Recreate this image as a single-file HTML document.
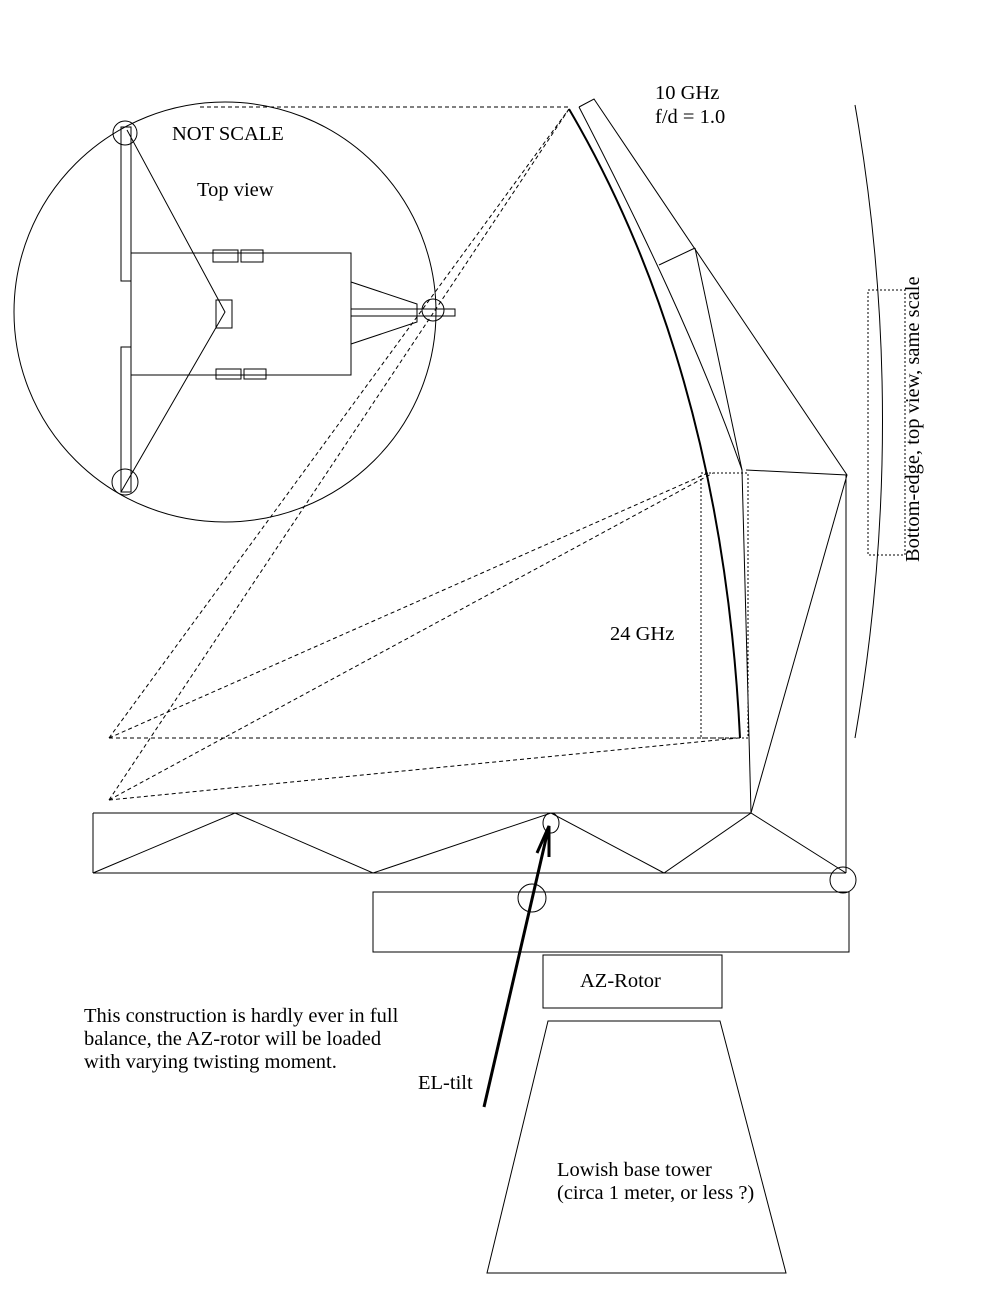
<!DOCTYPE html>
<html><head><style>
html,body{margin:0;padding:0;background:#fff;}
svg{display:block;}
text{font-family:"Liberation Serif",serif;font-size:20.5px;fill:#000;}
</style></head><body>
<svg width="990" height="1289" viewBox="0 0 990 1289" xmlns="http://www.w3.org/2000/svg">
<g fill="none" stroke="#000" stroke-width="1">
<ellipse cx="225" cy="312" rx="211" ry="210"/>
<rect x="121" y="127" width="10" height="154"/>
<rect x="121" y="347" width="10" height="145"/>
<rect x="131" y="253" width="220" height="122"/>
<rect x="213" y="250" width="25" height="12"/>
<rect x="241" y="250" width="22" height="12"/>
<rect x="216" y="369" width="25" height="10"/>
<rect x="244" y="369" width="22" height="10"/>
<rect x="216" y="300" width="16" height="28"/>
<polyline points="127,130 225,312 121,492"/>
<polyline points="351,282 417,304 417,322 351,344"/>
<rect x="351" y="309" width="104" height="7"/>
<circle cx="433" cy="310" r="11"/>
<circle cx="125" cy="133" r="12"/>
<circle cx="125" cy="482" r="13"/>
<g stroke-dasharray="4,3">
<line x1="200" y1="107" x2="569" y2="107"/>
<line x1="109" y1="738" x2="740" y2="738"/>
<line x1="109" y1="738" x2="569" y2="109"/>
<line x1="109" y1="800" x2="569" y2="109"/>
<line x1="109" y1="738" x2="708" y2="473"/>
<line x1="109" y1="800" x2="713" y2="473"/>
<line x1="109" y1="800" x2="738" y2="738"/>
</g>
<g stroke-dasharray="2,2">
<rect x="701" y="473" width="47" height="265"/>
<rect x="868" y="290" width="37" height="265"/>
</g>
<path d="M569,109 C640,230 725,430 740,738" stroke-width="2"/>
<path d="M579,107 C640,225 700,350 742,470"/>
<polyline points="579,107 594,99 847,475 751,813"/>
<line x1="659" y1="265" x2="695" y2="248"/>
<line x1="695" y1="248" x2="742" y2="470"/>
<polyline points="742,470 751,813"/>
<line x1="746" y1="470" x2="847" y2="475"/>
<line x1="846" y1="475" x2="846" y2="873"/>
<path d="M855,105 Q910,420 855,738"/>
<line x1="93" y1="813" x2="751" y2="813"/>
<line x1="93" y1="873" x2="846" y2="873"/>
<line x1="93" y1="813" x2="93" y2="873"/>
<polyline points="93,873 235,813 373,873 551,813 664,873 751,813 846,873"/>
<ellipse cx="551" cy="823" rx="8" ry="10"/>
<circle cx="843" cy="880" r="13"/>
<rect x="373" y="892" width="476" height="60"/>
<ellipse cx="532" cy="898" rx="14" ry="14"/>
<rect x="543" y="955" width="179" height="53"/>
<polygon points="548,1021 720,1021 786,1273 487,1273"/>
<line x1="484" y1="1107" x2="548" y2="830" stroke-width="3"/>
<polyline points="537,853 549,826 549,857" stroke-width="3"/>
</g>
<text x="655" y="99">10 GHz</text>
<text x="655" y="123">f/d = 1.0</text>
<text x="172" y="140">NOT SCALE</text>
<text x="197" y="196" font-size="18.5">Top view</text>
<text x="610" y="640">24 GHz</text>
<text x="580" y="987">AZ-Rotor</text>
<text x="84" y="1022">This construction is hardly ever in full</text>
<text x="84" y="1045">balance, the AZ-rotor will be loaded</text>
<text x="84" y="1068">with varying twisting moment.</text>
<text x="418" y="1089">EL-tilt</text>
<text x="557" y="1176">Lowish base tower</text>
<text x="557" y="1199">(circa 1 meter, or less ?)</text>
<text transform="translate(919,562) rotate(-90)">Bottom-edge, top view, same scale</text>
</svg>
</body></html>
